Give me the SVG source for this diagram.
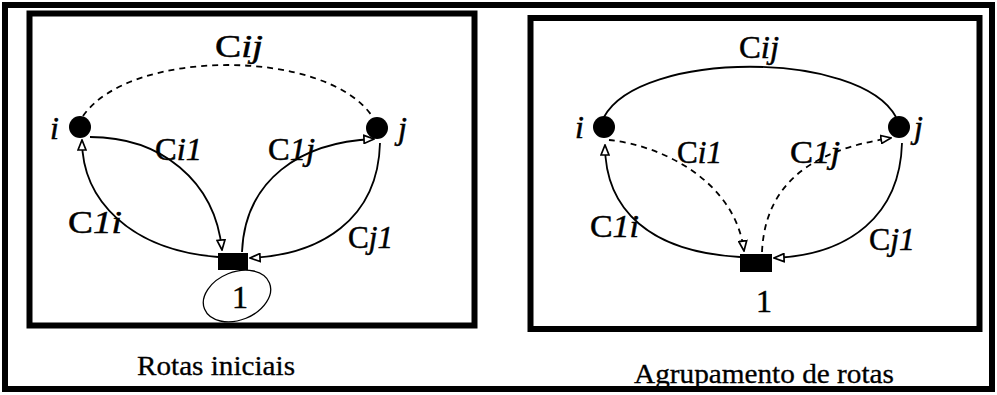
<svg xmlns="http://www.w3.org/2000/svg" width="997" height="395" viewBox="0 0 997 395">
<style>
.frame{fill:none;stroke:#000;stroke-width:6}
.edge{fill:none;stroke:#000;stroke-width:1.8}
.dash{stroke-dasharray:6 5}
text{font-family:'Liberation Serif','Times New Roman',serif;fill:#000;stroke:#000;stroke-width:0.5}
.lbl{font-size:32px}
.it{font-style:italic}
.cap{font-size:27px;stroke-width:0.3}
.node{fill:#000}
</style>
<defs>
<marker id="ah" viewBox="0 0 12 10" refX="11" refY="5" markerWidth="12" markerHeight="10" markerUnits="userSpaceOnUse" orient="auto">
<path d="M1,1 L11,5 L1,9 z" fill="#fff" stroke="#000" stroke-width="1.7"/>
</marker>
</defs>
<rect class="frame" x="5" y="5" width="987" height="384"/>
<rect class="frame" x="29.5" y="13.5" width="445" height="312"/>
<rect class="frame" x="530.5" y="18" width="449" height="311"/>

<g id="connectors">
<path class="edge dash" d="M83,116 C130,48 325,48 372,116"/>
<path class="edge" d="M90,137 C160,137 215,180 222,250" marker-end="url(#ah)"/>
<path class="edge" d="M218,257 C130,250 82,200 82,140" marker-end="url(#ah)"/>
<path class="edge" d="M242,252 C245,180 300,142 374,139" marker-end="url(#ah)"/>
<path class="edge" d="M380,143 C378,220 320,255 250,258" marker-end="url(#ah)"/>

<path class="edge" d="M604,117 C640,50 860,50 896,117"/>
<path class="edge dash" d="M609,140 C660,145 735,180 744,251" marker-end="url(#ah)"/>
<path class="edge dash" d="M762,252 C765,185 810,150 891,138" marker-end="url(#ah)"/>
<path class="edge" d="M740,257 C650,252 605,210 605,145" marker-end="url(#ah)"/>
<path class="edge" d="M902,143 C900,215 850,255 774,258" marker-end="url(#ah)"/>
</g>

<g id="left-i"><circle class="node" cx="80" cy="127" r="11"/><text class="lbl it" x="50" y="139">i</text></g>
<g id="left-j"><circle class="node" cx="377" cy="128" r="11"/><text class="lbl it" x="398" y="139">j</text></g>
<g id="left-1"><rect class="node" x="218" y="253" width="30" height="17"/>
<ellipse cx="237" cy="296" rx="35" ry="24" transform="rotate(-22 237 296)" fill="none" stroke="#000" stroke-width="1.3"/>
<text class="lbl" x="232" y="308">1</text></g>

<g id="left-labels">
<text class="lbl" x="215" y="57" textLength="48" lengthAdjust="spacingAndGlyphs">C<tspan class="it">ij</tspan></text>
<text class="lbl" x="155" y="160" textLength="47" lengthAdjust="spacingAndGlyphs">C<tspan class="it">i1</tspan></text>
<text class="lbl" x="268" y="160" textLength="47" lengthAdjust="spacingAndGlyphs">C<tspan class="it">1j</tspan></text>
<text class="lbl" x="68" y="233" textLength="54" lengthAdjust="spacingAndGlyphs">C<tspan class="it">1i</tspan></text>
<text class="lbl" x="348" y="248" textLength="45" lengthAdjust="spacingAndGlyphs">C<tspan class="it">j1</tspan></text>
<text class="cap" x="137" y="375" textLength="158" lengthAdjust="spacingAndGlyphs">Rotas iniciais</text>
</g>

<g id="right-i"><circle class="node" cx="604" cy="127" r="11"/><text class="lbl it" x="575" y="138">i</text></g>
<g id="right-j"><circle class="node" cx="899" cy="127" r="11"/><text class="lbl it" x="914" y="138">j</text></g>
<g id="right-1"><rect class="node" x="740" y="254" width="32" height="18"/>
<text class="lbl" x="756" y="312">1</text></g>

<g id="right-labels">
<text class="lbl" x="739" y="58" textLength="40" lengthAdjust="spacingAndGlyphs">C<tspan class="it">ij</tspan></text>
<text class="lbl" x="677" y="163" textLength="45" lengthAdjust="spacingAndGlyphs">C<tspan class="it">i1</tspan></text>
<text class="lbl" x="790" y="163" textLength="50" lengthAdjust="spacingAndGlyphs">C<tspan class="it">1j</tspan></text>
<text class="lbl" x="590" y="237" textLength="49" lengthAdjust="spacingAndGlyphs">C<tspan class="it">1i</tspan></text>
<text class="lbl" x="869" y="250" textLength="46" lengthAdjust="spacingAndGlyphs">C<tspan class="it">j1</tspan></text>
<text class="cap" x="634" y="383" textLength="260" lengthAdjust="spacingAndGlyphs">Agrupamento de rotas</text>
</g>
</svg>
